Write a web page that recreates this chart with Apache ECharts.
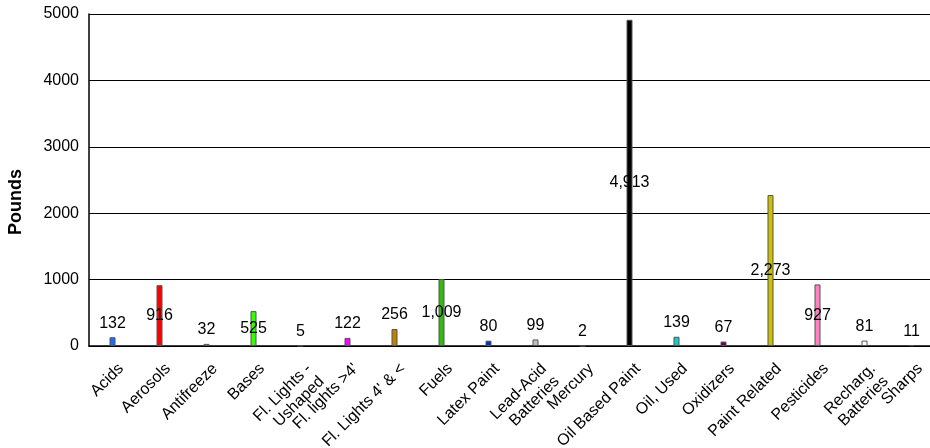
<!DOCTYPE html>
<html>
<head>
<meta charset="utf-8">
<script src="https://cdn.jsdelivr.net/npm/echarts@6/dist/echarts.min.js"></script>
<style>
html,body{margin:0;padding:0;background:#fff;}
#chart{width:930px;height:448px;}
</style>
</head>
<body>
<div id="chart"></div>
<script>
const categories = ["Acids", "Aerosols", "Antifreeze", "Bases", "Fl. Lights -\nUshaped", "Fl. lights >4'", "Fl. Lights 4' & <", "Fuels", "Latex Paint", "Lead-Acid\nBatteries", "Mercury", "Oil Based Paint", "Oil, Used", "Oxidizers", "Paint Related", "Pesticides", "Recharg.\nBatteries", "Sharps"];
const pounds = [132, 916, 32, 525, 5, 122, 256, 1009, 80, 99, 2, 4913, 139, 67, 2273, 927, 81, 11];
const yTicks = [0, 1000, 2000, 3000, 4000, 5000];
const barColors = ["#1a6cff", "#ff0000", "#cccc33", "#33ff00", "#333399", "#ff00ff", "#c08000", "#33bb11", "#0033cc", "#c0c0c0", "#006666", "#000000", "#11cccc", "#660066", "#ccc000", "#ff80c0", "#ffffff", "#333333"];

const FONT = "'Liberation Sans', Arial, sans-serif";
const chart = echarts.init(document.getElementById('chart'), null, {renderer: 'canvas'});
chart.setOption({
  animation: false,
  backgroundColor: '#fff',
  grid: {left: 89, right: -5, top: 14, bottom: 102, containLabel: false, outerBoundsMode: 'none'},
  xAxis: {
    type: 'category',
    data: categories,
    name: 'Material',
    nameLocation: 'middle',
    nameGap: 78,
    nameTextStyle: {fontFamily: FONT, fontSize: 18, fontWeight: 'bold', color: '#000', padding: [0, 10, 0, 0]},
    axisLine: {lineStyle: {color: '#000', width: 1.5}},
    axisTick: {show: false},
    axisLabel: {
      interval: 0, rotate: 45, margin: 16,
      align: 'right', verticalAlign: 'top',
      padding: [0, -3, 0, 0],
      fontFamily: FONT, fontSize: 16, color: '#000', lineHeight: 18
    }
  },
  yAxis: {
    type: 'value',
    min: yTicks[0], max: yTicks[yTicks.length - 1], interval: 1000,
    name: 'Pounds',
    nameLocation: 'middle',
    nameGap: 64,
    nameTextStyle: {fontFamily: FONT, fontSize: 18, fontWeight: 'bold', color: '#000', padding: [0, 44, 0, 0]},
    axisLine: {show: true, lineStyle: {color: '#000', width: 1.5}},
    axisTick: {show: false},
    axisLabel: {margin: 10, fontFamily: FONT, fontSize: 16, color: '#000', formatter: v => String(v)},
    splitLine: {show: true, lineStyle: {color: '#000', width: 1}}
  },
  series: [{
    type: 'bar',
    barWidth: 6,
    data: pounds.map((v, i) => ({
      value: v,
      itemStyle: {color: barColors[i]},
      label: {position: v >= 400 ? 'inside' : 'top'}
    })),
    itemStyle: {borderColor: '#555', borderWidth: 1},
    label: {
      show: true,
      distance: 6,
      fontFamily: FONT, fontSize: 16, color: '#000',
      textBorderWidth: 0,
      formatter: p => p.value.toLocaleString('en-US')
    }
  }]
});
</script>
</body>
</html>
